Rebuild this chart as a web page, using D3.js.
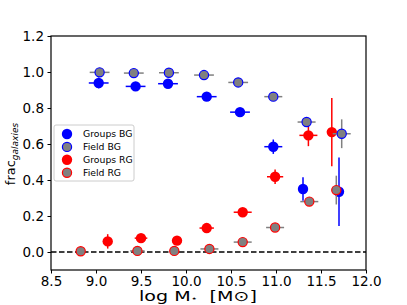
<!DOCTYPE html>
<html><head><meta charset="utf-8">
<script src="https://cdn.jsdelivr.net/npm/d3@7"></script>
<style>body{margin:0;background:#fff}svg{display:block;font-family:"DejaVu Sans",sans-serif}</style>
</head><body>
<svg id="c" width="407" height="305"></svg>
<script>
// x, y, x-error, y-error
const groupsBG_x = [9.03, 9.44, 9.80, 10.23, 10.60, 10.97, 11.30, 11.70];
const groupsBG_y = [0.939, 0.920, 0.935, 0.863, 0.777, 0.585, 0.350, 0.335];
const groupsBG_xerr = [0.11, 0.11, 0.11, 0.11, 0.11, 0.10, 0.03, 0.0];
const groupsBG_yerr = [0.03, 0.01, 0.01, 0.01, 0.02, 0.04, 0.065, 0.19];

const fieldBG_x = [9.04, 9.42, 9.81, 10.20, 10.58, 10.97, 11.34, 11.73];
const fieldBG_y = [0.998, 0.994, 0.996, 0.983, 0.942, 0.863, 0.722, 0.657];
const fieldBG_xerr = [0.11, 0.11, 0.11, 0.11, 0.11, 0.10, 0.10, 0.10];
const fieldBG_yerr = [0.0, 0.0, 0.0, 0.0, 0.005, 0.005, 0.015, 0.08];

const groupsRG_x = [9.13, 9.50, 9.90, 10.23, 10.63, 10.99, 11.36, 11.62];
const groupsRG_y = [0.059, 0.077, 0.063, 0.133, 0.221, 0.418, 0.648, 0.666];
const groupsRG_xerr = [0.0, 0.07, 0.04, 0.08, 0.10, 0.09, 0.10, 0.0];
const groupsRG_yerr = [0.04, 0.02, 0.01, 0.01, 0.01, 0.04, 0.06, 0.19];

const fieldRG_x = [8.83, 9.46, 9.87, 10.26, 10.63, 10.99, 11.37, 11.67];
const fieldRG_y = [0.004, 0.006, 0.006, 0.017, 0.055, 0.136, 0.280, 0.344];
const fieldRG_xerr = [0.0, 0.08, 0.05, 0.10, 0.10, 0.10, 0.10, 0.0];
const fieldRG_yerr = [0.0, 0.0, 0.0, 0.005, 0.005, 0.005, 0.01, 0.08];

const xTicks = [8.5, 9.0, 9.5, 10.0, 10.5, 11.0, 11.5, 12.0];
const yTicks = [0.0, 0.2, 0.4, 0.6, 0.8, 1.0, 1.2];
const legendLabels = ["Groups BG", "Field BG", "Groups RG", "Field RG"];

const svg = d3.select("#c");
const L = 51, T = 36, R = 366, B = 270;
const x = d3.scaleLinear().domain([8.5, 12.0]).range([L, R]);
const y = d3.scaleLinear().domain([-0.1, 1.2]).range([B, T]);

const series = [
  {xs: groupsBG_x, ys: groupsBG_y, xe: groupsBG_xerr, ye: groupsBG_yerr, fill: "#0000ff", edge: "#0000ff", ecol: "#0000ff", r: 5.2, sw: 0},
  {xs: groupsRG_x, ys: groupsRG_y, xe: groupsRG_xerr, ye: groupsRG_yerr, fill: "#ff0000", edge: "#ff0000", ecol: "#ff0000", r: 5.2, sw: 0},
  {xs: fieldBG_x, ys: fieldBG_y, xe: fieldBG_xerr, ye: fieldBG_yerr, fill: "#808080", edge: "#0000ff", ecol: "#808080", r: 4.6, sw: 1.2},
  {xs: fieldRG_x, ys: fieldRG_y, xe: fieldRG_xerr, ye: fieldRG_yerr, fill: "#808080", edge: "#ff0000", ecol: "#808080", r: 4.6, sw: 1.2}
];

svg.append("line").attr("x1", L).attr("x2", R).attr("y1", y(0)).attr("y2", y(0))
  .attr("stroke", "#000").attr("stroke-width", 1.5).attr("stroke-dasharray", "5.5,2.5");

series.forEach(s => {
  const g = svg.append("g");
  const d = s.xs.map((v, i) => ({x: v, y: s.ys[i], xe: s.xe[i], ye: s.ye[i]}));
  g.selectAll(".ex").data(d.filter(p => p.xe > 0)).join("line")
    .attr("x1", p => x(p.x - p.xe)).attr("x2", p => x(p.x + p.xe))
    .attr("y1", p => y(p.y)).attr("y2", p => y(p.y))
    .attr("stroke", s.ecol).attr("stroke-width", 1.5);
  g.selectAll(".ey").data(d.filter(p => p.ye > 0)).join("line")
    .attr("x1", p => x(p.x)).attr("x2", p => x(p.x))
    .attr("y1", p => y(p.y - p.ye)).attr("y2", p => y(p.y + p.ye))
    .attr("stroke", s.ecol).attr("stroke-width", 1.5);
  g.selectAll("circle").data(d).join("circle")
    .attr("cx", p => x(p.x)).attr("cy", p => y(p.y)).attr("r", s.r)
    .attr("fill", s.fill).attr("stroke", s.edge).attr("stroke-width", s.sw);
});

const xa = svg.append("g").attr("transform", `translate(0,${B})`)
  .call(d3.axisBottom(x).tickValues(xTicks).tickFormat(d3.format(".1f")).tickSizeOuter(0).tickSize(3.5).tickPadding(3));
const ya = svg.append("g").attr("transform", `translate(${L},0)`)
  .call(d3.axisLeft(y).tickValues(yTicks).tickFormat(d3.format(".1f")).tickSizeOuter(0).tickSize(3.5).tickPadding(3.5));
[xa, ya].forEach(a => {
  a.select(".domain").remove();
  a.selectAll("text").attr("font-size", 13.5).attr("fill", "#000").attr("font-family", "DejaVu Sans");
  a.selectAll("line").attr("stroke", "#000").attr("stroke-width", 1);
});
svg.append("rect").attr("x", L).attr("y", T).attr("width", R - L).attr("height", B - T)
  .attr("fill", "none").attr("stroke", "#000").attr("stroke-width", 1.2);

const lg = svg.append("g");
lg.append("rect").attr("x", 54).attr("y", 125).attr("width", 80).attr("height", 56).attr("rx", 2)
  .attr("fill", "#fff").attr("fill-opacity", 0.8).attr("stroke", "#cccccc").attr("stroke-width", 1);
const legSeries = [series[0], series[2], series[1], series[3]];
legendLabels.forEach((lab, i) => {
  const s = legSeries[i];
  const yy = 134 + i * 12.9;
  lg.append("circle").attr("cx", 67).attr("cy", yy).attr("r", s.r).attr("fill", s.fill)
    .attr("stroke", s.edge).attr("stroke-width", s.sw);
  lg.append("text").attr("x", 83).attr("y", yy + 3.3).attr("font-size", 9.3).attr("fill", "#000").text(lab);
});

const xl = svg.append("text").attr("x", 139).attr("y", 301).attr("font-size", 14).attr("fill", "#000")
  .attr("textLength", 118).attr("lengthAdjust", "spacingAndGlyphs");
xl.append("tspan").text("log M");
xl.append("tspan").attr("font-size", 8).text("⋆");
xl.append("tspan").text(" \u00a0[M⊙]");

const yl = svg.append("text").attr("transform", "translate(15,154) rotate(-90)").attr("text-anchor", "middle").attr("font-size", 13).attr("fill", "#000");
yl.append("tspan").text("frac");
yl.append("tspan").attr("font-size", 9).attr("font-style", "italic").attr("dy", 3).text("galaxies");
</script>
</body></html>
